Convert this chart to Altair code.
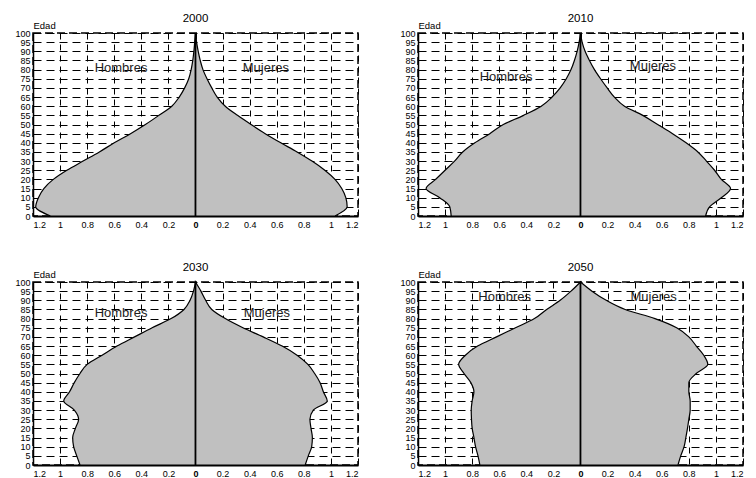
import altair as alt
import pandas as pd

ages = list(range(0, 101, 5))
years = ["2000", "2010", "2030", "2050"]

hombres = {
    "2000": [1.07, 1.18, 1.16, 1.12, 1.05, 0.95, 0.83, 0.71, 0.60, 0.48, 0.37,
             0.27, 0.175, 0.12, 0.08, 0.05, 0.032, 0.02, 0.012, 0.006, 0.0],
    "2010": [0.955, 0.965, 1.04, 1.14, 1.07, 1.0, 0.93, 0.87, 0.78, 0.67, 0.57,
             0.42, 0.29, 0.21, 0.15, 0.105, 0.07, 0.045, 0.025, 0.01, 0.0],
    "2030": [0.853, 0.877, 0.90, 0.907, 0.887, 0.863, 0.895, 0.973, 0.93, 0.895, 0.853,
             0.80, 0.69, 0.58, 0.45, 0.32, 0.18, 0.085, 0.04, 0.015, 0.0],
    "2050": [0.743, 0.757, 0.775, 0.787, 0.80, 0.805, 0.807, 0.80, 0.787, 0.81, 0.86,
             0.90, 0.85, 0.76, 0.62, 0.48, 0.34, 0.25, 0.15, 0.07, 0.0],
}
mujeres = {
    "2000": [1.03, 1.12, 1.11, 1.08, 1.03, 0.955, 0.86, 0.75, 0.63, 0.515, 0.41,
             0.31, 0.22, 0.16, 0.12, 0.085, 0.055, 0.035, 0.02, 0.008, 0.0],
    "2010": [0.924, 0.953, 1.04, 1.108, 1.04, 0.99, 0.93, 0.867, 0.78, 0.68, 0.57,
             0.46, 0.325, 0.25, 0.197, 0.148, 0.103, 0.066, 0.034, 0.012, 0.0],
    "2030": [0.81, 0.833, 0.858, 0.863, 0.853, 0.845, 0.87, 0.973, 0.944, 0.92, 0.88,
             0.83, 0.75, 0.64, 0.50, 0.35, 0.22, 0.12, 0.075, 0.04, 0.0],
    "2050": [0.72, 0.74, 0.765, 0.778, 0.79, 0.80, 0.81, 0.81, 0.80, 0.80, 0.855,
             0.94, 0.91, 0.855, 0.80, 0.71, 0.55, 0.33, 0.19, 0.085, 0.0],
}

label_text = ["Hombres", "Mujeres"]
label_x = {
    "2000": [-0.55, 0.52],
    "2010": [-0.55, 0.535],
    "2030": [-0.55, 0.527],
    "2050": [-0.56, 0.54],
}
label_age = {
    "2000": [81, 81],
    "2010": [76, 82],
    "2030": [83, 83],
    "2050": [92, 92],
}

x_ticks = [-1.2, -1.0, -0.8, -0.6, -0.4, -0.2, 0, 0.2, 0.4, 0.6, 0.8, 1.0, 1.2]
y_ticks = list(range(0, 101, 5))

FONT = "Liberation Sans"

xscale = alt.Scale(domain=[-1.2, 1.2], nice=False, zero=False)
yscale = alt.Scale(domain=[0, 100], nice=False, zero=False)

xaxis = alt.Axis(
    values=x_ticks,
    labelExpr="format(abs(datum.value), '.1~f')",
    grid=True, gridDash=[6, 5], gridColor="black", gridWidth=1, gridOpacity=1,
    ticks=False, domainColor="black", domainWidth=2,
    labelFontSize=9, labelColor="black", labelPadding=4, labelOverlap=False,
    labelFontWeight={"condition": {"test": "abs(datum.value) < 0.01", "value": "bold"},
                     "value": "normal"},
    title=None,
)
yaxis = alt.Axis(
    values=y_ticks,
    grid=True, gridDash=[8, 5], gridColor="black", gridWidth=1, gridOpacity=1,
    ticks=False, domainColor="black", domainWidth=1.5,
    labelFontSize=9, labelColor="black", labelPadding=3, labelOverlap=False,
    title="Edad", titleAngle=0, titleX=0, titleY=-3, titleAlign="left",
    titleBaseline="bottom", titleFontSize=9.5, titleFontWeight="normal",
    titleColor="black",
)


def panel(year):
    rows = []
    for a, v in zip(ages, hombres[year]):
        rows.append({"age": a, "x": -v, "sexo": "Hombres"})
    for a, v in zip(ages, mujeres[year]):
        rows.append({"age": a, "x": v, "sexo": "Mujeres"})
    df = pd.DataFrame(rows)

    area = alt.Chart(df).mark_area(
        orient="horizontal", interpolate="monotone",
        fill="#c0c0c0", stroke="black", strokeWidth=1.2, fillOpacity=1,
    ).encode(
        x=alt.X("x:Q", scale=xscale, axis=xaxis, stack=None),
        x2=alt.X2(datum=0),
        y=alt.Y("age:Q", scale=yscale, axis=yaxis),
        detail="sexo:N",
    )

    rule = alt.Chart(pd.DataFrame({"k": [0]})).mark_rule(
        color="black", strokeWidth=1.6
    ).encode(
        x=alt.X(datum=0, scale=xscale, axis=xaxis),
        y=alt.Y(datum=0, scale=yscale, axis=yaxis),
        y2=alt.Y2(datum=100),
    )

    tdf = pd.DataFrame({"label": label_text, "x": label_x[year], "age": label_age[year]})
    text = alt.Chart(tdf).mark_text(
        fontSize=13, color="#222222", font=FONT
    ).encode(
        x=alt.X("x:Q", scale=xscale, axis=xaxis),
        y=alt.Y("age:Q", scale=yscale, axis=yaxis),
        text="label:N",
    )

    return alt.layer(area, rule, text).properties(
        width=325, height=183,
        title=alt.TitleParams(year, fontSize=11.5, fontWeight="normal", frame="group",
                              anchor="middle", offset=-4, color="black", font=FONT),
    )


top = alt.hconcat(panel("2000"), panel("2010"), spacing=40)
bottom = alt.hconcat(panel("2030"), panel("2050"), spacing=40)
chart = alt.vconcat(top, bottom, spacing=30).properties(
    padding={"left": 6, "top": 3, "right": 2, "bottom": 2}
).configure(font=FONT).configure_title(fontWeight="normal").configure_view(
    stroke="black", strokeDash=[8, 4], strokeWidth=1.5
)

chart.save("out.html", embed_options={"renderer": "svg", "actions": False})
